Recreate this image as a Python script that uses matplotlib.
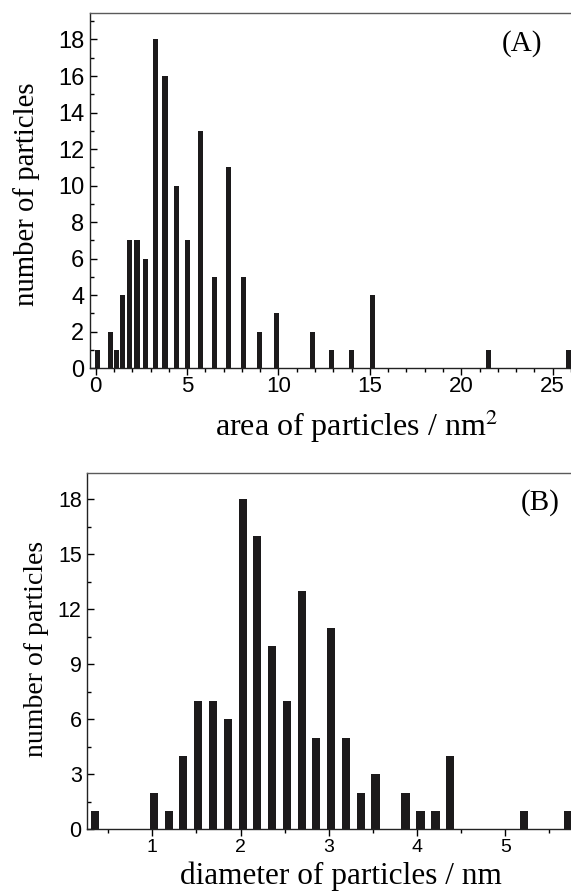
import numpy as np
import matplotlib
matplotlib.use("Agg")
import matplotlib.pyplot as plt
from matplotlib.ticker import MultipleLocator

# panel A: area histogram
area_x = [0.1, 0.82, 1.14, 1.45, 1.84, 2.26, 2.73, 3.26, 3.80, 4.42, 5.04, 5.75,
          6.5, 7.27, 8.09, 8.98, 9.89, 11.86, 12.9, 13.99, 15.14, 21.47, 25.85]
area_n = [1, 2, 1, 4, 7, 7, 6, 18, 16, 10, 7, 13,
          5, 11, 5, 2, 3, 2, 1, 1, 4, 1, 1]

# panel B: diameter histogram
diam_x = [0.35, 1.02, 1.19, 1.35, 1.52, 1.69, 1.86, 2.03, 2.19, 2.36, 2.53, 2.70,
          2.86, 3.03, 3.20, 3.37, 3.53, 3.87, 4.04, 4.21, 4.37, 5.21, 5.71]
diam_n = [1, 2, 1, 4, 7, 7, 6, 18, 16, 10, 7, 13,
          5, 11, 5, 2, 3, 2, 1, 1, 4, 1, 1]

plt.rcParams["mathtext.fontset"] = "stix"
serif = ["Liberation Serif", "DejaVu Serif"]
sans = ["Liberation Sans", "DejaVu Sans"]
barcol = "#1c1a1b"
W, H = 571, 893

fig = plt.figure(figsize=(W / 100, H / 100), dpi=100)

def style(ax, xfs, yfs, xpad, ypad):
    ax.spines["right"].set_visible(False)
    for s in ["left", "bottom"]:
        ax.spines[s].set_linewidth(1.0)
        ax.spines[s].set_color("#222222")
    ax.spines["top"].set_linewidth(1.0)
    ax.spines["top"].set_color("#5a5a5a")
    ax.tick_params(axis="x", which="major", direction="out", length=5, width=1,
                   labelsize=xfs, pad=xpad, top=False)
    ax.tick_params(axis="x", which="minor", direction="out", length=3, width=1, top=False)
    ax.tick_params(axis="y", which="major", direction="in", length=5, width=1,
                   labelsize=yfs, pad=ypad, right=False)
    ax.tick_params(axis="y", which="minor", direction="in", length=3, width=1, right=False)
    for lab in ax.get_xticklabels() + ax.get_yticklabels():
        lab.set_family(sans)

# ---- top panel
ax1 = fig.add_axes([90 / W, 1 - 368.3 / H, 1 - 90 / W, 355.3 / H])
ax1.bar(area_x, area_n, width=0.29, color=barcol, align="center")
ax1.set_xlim(-0.31, 26.0)
ax1.set_ylim(0, 19.45)
ax1.xaxis.set_major_locator(MultipleLocator(5))
ax1.xaxis.set_minor_locator(MultipleLocator(1))
ax1.yaxis.set_major_locator(MultipleLocator(2))
ax1.yaxis.set_minor_locator(MultipleLocator(1))
style(ax1, 16, 17, 0.5, 4)
fig.text(27 / W, 1 - 194 / H, "number of particles", family=serif, fontsize=20.7,
         rotation=90, ha="center", va="center")
fig.text(357 / W, 1 - 436 / H, "area of particles / nm$^2$", family=serif, fontsize=23,
         ha="center", va="baseline")
ax1.text(0.898, 0.913, "(A)", transform=ax1.transAxes, family=serif, fontsize=21,
         ha="center", va="center")

# ---- bottom panel
ax2 = fig.add_axes([87.3 / W, 1 - 829.3 / H, 1 - 87.3 / W, 356 / H])
ax2.bar(diam_x, diam_n, width=0.092, color=barcol, align="center")
ax2.set_xlim(0.264, 5.745)
ax2.set_ylim(0, 19.42)
ax2.xaxis.set_major_locator(MultipleLocator(1))
ax2.xaxis.set_minor_locator(MultipleLocator(0.5))
ax2.yaxis.set_major_locator(MultipleLocator(3))
ax2.yaxis.set_minor_locator(MultipleLocator(1.5))
style(ax2, 14, 15.5, 2, 4)
fig.text(36.5 / W, 1 - 649 / H, "number of particles", family=serif, fontsize=20,
         rotation=90, ha="center", va="center")
fig.text(340.5 / W, 1 - 884 / H, "diameter of particles / nm", family=serif, fontsize=22.5,
         ha="center", va="baseline")
ax2.text(0.936, 0.917, "(B)", transform=ax2.transAxes, family=serif, fontsize=21,
         ha="center", va="center")

fig.savefig("out.png", dpi=100)
